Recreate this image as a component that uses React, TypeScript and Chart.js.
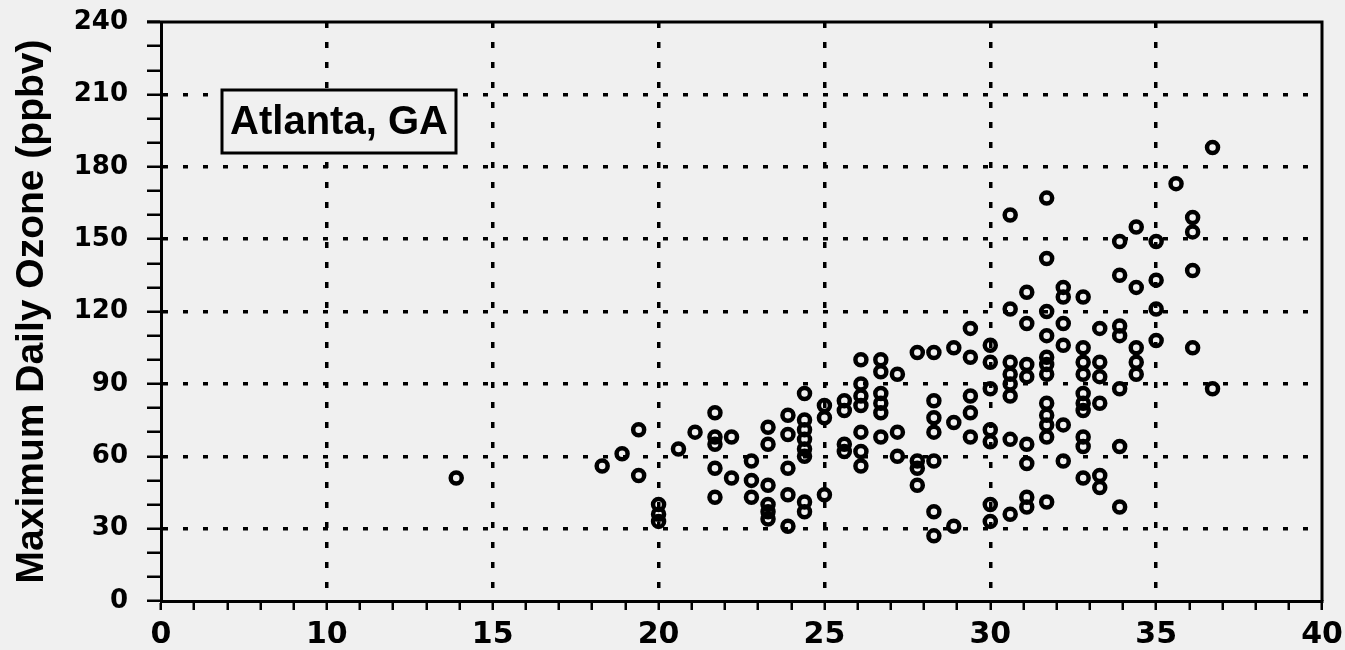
import { useEffect, useRef } from "react";
import { Chart, registerables } from "chart.js";

Chart.register(...registerables);

// Daily maximum temperature (°C)
const temperatureC = [
  13.9,
  18.3, 18.9, 19.4, 19.4,
  20.0, 20.0, 20.0, 20.6, 21.1,
  21.7, 21.7, 21.7, 21.7, 21.7,
  22.2, 22.2, 22.8, 22.8, 22.8,
  23.3, 23.3, 23.3, 23.3, 23.3, 23.3,
  23.9, 23.9, 23.9, 23.9, 23.9,
  24.4, 24.4, 24.4, 24.4, 24.4, 24.4, 24.4, 24.4,
  25.0, 25.0, 25.0,
  25.6, 25.6, 25.6, 25.6,
  26.1, 26.1, 26.1, 26.1, 26.1, 26.1, 26.1,
  26.7, 26.7, 26.7, 26.7, 26.7, 26.7,
  27.2, 27.2, 27.2,
  27.8, 27.8, 27.8, 27.8,
  28.3, 28.3, 28.3, 28.3, 28.3, 28.3, 28.3,
  28.9, 28.9, 28.9,
  29.4, 29.4, 29.4, 29.4, 29.4,
  30.0, 30.0, 30.0, 30.0, 30.0, 30.0, 30.0,
  30.6, 30.6, 30.6, 30.6, 30.6, 30.6, 30.6, 30.6,
  31.1, 31.1, 31.1, 31.1, 31.1, 31.1, 31.1, 31.1,
  31.7, 31.7, 31.7, 31.7, 31.7, 31.7, 31.7, 31.7, 31.7, 31.7, 31.7, 31.7,
  32.2, 32.2, 32.2, 32.2, 32.2, 32.2,
  32.8, 32.8, 32.8, 32.8, 32.8, 32.8, 32.8, 32.8, 32.8, 32.8,
  33.3, 33.3, 33.3, 33.3, 33.3, 33.3,
  33.9, 33.9, 33.9, 33.9, 33.9, 33.9, 33.9,
  34.4, 34.4, 34.4, 34.4, 34.4,
  35.0, 35.0, 35.0, 35.0,
  35.6,
  36.1, 36.1, 36.1, 36.1,
  36.7, 36.7,
];

// Maximum daily ozone (ppbv), same order as temperatureC
const ozonePpbv = [
  51,
  56, 61, 71, 52,
  40, 36, 33, 63, 70,
  78, 68, 65, 55, 43,
  68, 51, 58, 50, 43,
  72, 65, 48, 40, 37, 34,
  77, 69, 55, 44, 31,
  86, 75, 71, 67, 63, 60, 41, 37,
  81, 76, 44,
  83, 79, 65, 62,
  100, 90, 85, 81, 70, 62, 56,
  100, 95, 86, 82, 78, 68,
  94, 70, 60,
  103, 58, 55, 48,
  103, 83, 76, 70, 58, 37, 27,
  105, 74, 31,
  113, 101, 85, 78, 68,
  106, 99, 88, 71, 66, 40, 33,
  160, 121, 99, 94, 90, 85, 67, 36,
  128, 115, 98, 93, 65, 57, 43, 39,
  167, 142, 120, 110, 101, 98, 94, 82, 77, 73, 68, 41,
  130, 126, 115, 106, 73, 58,
  126, 105, 99, 94, 86, 82, 79, 68, 64, 51,
  113, 99, 93, 82, 52, 47,
  149, 135, 114, 110, 88, 64, 39,
  155, 130, 105, 99, 94,
  149, 133, 121, 108,
  173,
  159, 153, 137, 105,
  188, 88,
];

// Axis settings
const xAxisStart = 5; // the axis origin is labelled "0" in the figure
const xAxisEnd = 40;
const xOriginLabel = "0";
const xLabelStep = 5;
const yAxisMax = 240;
const yLabelStep = 30;
const yMinorStep = 10;
const yAxisTitle = "Maximum Daily Ozone (ppbv)";
const stationLabel = "Atlanta, GA";

export default function App() {
  const canvasRef = useRef<HTMLCanvasElement | null>(null);

  useEffect(() => {
    const canvas = canvasRef.current;
    if (!canvas) return;

    const points = temperatureC.map((t, i) => ({ x: t, y: ozonePpbv[i] }));

    const framePlugin = {
      id: "frame",
      afterDraw(chart: any) {
        const { ctx, chartArea: a } = chart;
        ctx.save();
        ctx.strokeStyle = "#000";
        ctx.lineWidth = 3;
        ctx.beginPath();
        ctx.moveTo(a.left - 14, a.top);
        ctx.lineTo(a.right, a.top);
        ctx.lineTo(a.right, a.bottom);
        ctx.stroke();
        ctx.restore();
      },
    };

    const labelBoxPlugin = {
      id: "labelBox",
      beforeDatasetsDraw(chart: any) {
        const { ctx, chartArea: a } = chart;
        const l = a.left + 61;
        const r = a.left + 295;
        const t = a.top + 68;
        const b = a.top + 131;
        ctx.save();
        ctx.fillStyle = "#f0f0f0";
        ctx.fillRect(l, t, r - l, b - t);
        ctx.strokeStyle = "#000";
        ctx.lineWidth = 3;
        ctx.strokeRect(l, t, r - l, b - t);
        ctx.fillStyle = "#000";
        ctx.font = "bold 40px 'Liberation Sans', Arial, sans-serif";
        ctx.textAlign = "center";
        ctx.textBaseline = "middle";
        ctx.fillText(stationLabel, (l + r) / 2, (t + b) / 2 + 1);
        ctx.restore();
      },
    };

    const yTickFont = { family: "'DejaVu Sans', sans-serif", size: 26, weight: "bold" as const };
    const xTickFont = { family: "'DejaVu Sans', sans-serif", size: 30, weight: "bold" as const };

    const chart = new Chart(canvas, {
      type: "scatter",
      data: {
        datasets: [
          {
            data: points,
            pointRadius: 5.5,
            pointHoverRadius: 5.5,
            borderWidth: 4.5,
            pointBorderWidth: 4.5,
            borderColor: "#000",
            pointBorderColor: "#000",
            backgroundColor: "rgba(0,0,0,0)",
            pointBackgroundColor: "rgba(0,0,0,0)",
          },
        ],
      },
      options: {
        animation: false,
        responsive: false,
        devicePixelRatio: 1,
        layout: { padding: { top: 22, right: 23, left: 0, bottom: 0 } },
        plugins: { legend: { display: false }, tooltip: { enabled: false } },
        scales: {
          x: {
            type: "linear",
            min: xAxisStart,
            max: xAxisEnd,
            afterFit: (s: any) => {
              s.height = 49;
              s.paddingLeft = 0;
              s.paddingRight = 0;
            },
            ticks: {
              stepSize: 1,
              autoSkip: false,
              maxRotation: 0,
              color: "#000",
              font: xTickFont,
              padding: 7,
              callback: (v: any) => {
                if (v === xAxisStart) return xOriginLabel;
                return v % xLabelStep === 0 ? String(v) : "";
              },
            },
            grid: {
              color: (c: any) => {
                const v = c.tick ? c.tick.value : NaN;
                return v % xLabelStep === 0 && v !== xAxisStart && v !== xAxisEnd ? "#000" : "rgba(0,0,0,0)";
              },
              lineWidth: 3.5,
              tickLength: 9,
              tickColor: "#000",
              tickWidth: 2.5,
            },
            border: { display: true, color: "#000", width: 3, dash: [6, 14] },
          },
          y: {
            type: "linear",
            min: 0,
            max: yAxisMax,
            afterFit: (s: any) => {
              s.width = 161;
              s.paddingTop = 0;
              s.paddingBottom = 0;
            },
            title: {
              display: true,
              text: yAxisTitle,
              color: "#000",
              font: { family: "'Liberation Sans', Arial, sans-serif", size: 39, weight: "bold" },
              padding: { top: 9, bottom: 0 },
            },
            ticks: {
              stepSize: yMinorStep,
              autoSkip: false,
              color: "#000",
              font: yTickFont,
              padding: 19,
              callback: (v: any) => (v % yLabelStep === 0 ? String(v) : ""),
            },
            grid: {
              color: (c: any) => {
                const v = c.tick ? c.tick.value : NaN;
                return v % yLabelStep === 0 && v !== 0 && v !== yAxisMax ? "#000" : "rgba(0,0,0,0)";
              },
              lineWidth: 3.5,
              tickLength: 14,
              tickColor: "#000",
              tickWidth: 2.5,
            },
            border: { display: true, color: "#000", width: 3, dash: [5, 15] },
          },
        },
      },
      plugins: [labelBoxPlugin, framePlugin],
    });

    return () => chart.destroy();
  }, []);

  return (
    <div
      style={{
        position: "absolute",
        left: 0,
        top: 0,
        width: 1345,
        height: 650,
        background: "#f0f0f0",
        overflow: "hidden",
      }}
    >
      <canvas ref={canvasRef} width={1345} height={650} style={{ display: "block" }} />
    </div>
  );
}
